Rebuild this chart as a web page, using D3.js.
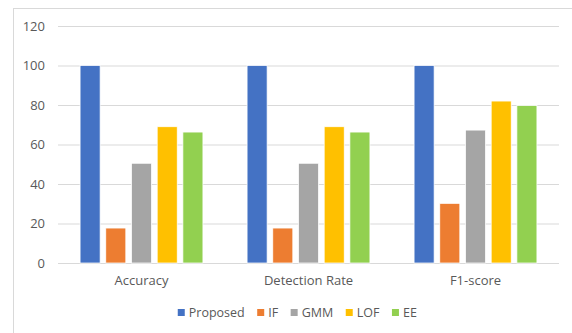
<!DOCTYPE html>
<html>
<head>
<meta charset="utf-8">
<script src="https://cdn.jsdelivr.net/npm/d3@7"></script>
<style>
  html, body { margin: 0; padding: 0; background: #fff; }
  svg { display: block; }
  text { font-family: "Open Sans", "Liberation Sans", sans-serif; fill: #595959; }
</style>
</head>
<body>
<svg id="chart" width="572" height="333"></svg>
<script>
// Metric groups along the x axis
const categories = ["Accuracy", "Detection Rate", "F1-score"];
// Methods compared in each group
const seriesNames = ["Proposed", "IF", "GMM", "LOF", "EE"];
// Scores (%) per method, one value per metric group
const proposed = [100, 100, 100];
const iforest  = [17.7, 17.7, 30.2];
const gmm      = [50.5, 50.5, 67.3];
const lof      = [69, 69, 82];
const ee       = [66.3, 66.3, 79.7];
const yTicks   = [0, 20, 40, 60, 80, 100, 120];
const colors   = ["#4472C4", "#ED7D31", "#A5A5A5", "#FFC000", "#92D050"];

const seriesValues = [proposed, iforest, gmm, lof, ee];

const svg = d3.select("#chart");
const W = 572, H = 333;

// Chart-area frame
svg.append("rect")
  .attr("x", 13.5).attr("y", 8.5)
  .attr("width", W).attr("height", H)
  .attr("fill", "none").attr("stroke", "#d9d9d9").attr("stroke-width", 1);

const plot = { left: 58, right: 559, top: 26, bottom: 263 };

const y = d3.scaleLinear().domain([0, 120]).range([plot.bottom, plot.top]);

const x0 = d3.scaleBand()
  .domain(categories)
  .range([plot.left, plot.right])
  .paddingInner(0.2305)
  .paddingOuter(0.2305 / 2);

const x1 = d3.scaleBand()
  .domain(seriesNames)
  .range([0, x0.bandwidth()])
  .paddingInner(0.22)
  .paddingOuter(0.11);

// Horizontal gridlines and value labels
const yAxis = d3.axisLeft(y)
  .tickValues(yTicks)
  .tickSize(-(plot.right - plot.left))
  .tickPadding(13)
  .tickFormat(d3.format("d"));

const gy = svg.append("g")
  .attr("transform", `translate(${plot.left},0)`)
  .call(yAxis);
gy.select(".domain").remove();
gy.selectAll(".tick line").attr("stroke", "#d9d9d9").attr("stroke-width", 1);
gy.selectAll(".tick text")
  .attr("fill", "#595959")
  .style("font-size", "13px");

// Bars
const groups = svg.append("g").selectAll("g")
  .data(categories)
  .join("g")
  .attr("transform", d => `translate(${x0(d)},0)`);

groups.selectAll("rect")
  .data((c, ci) => seriesNames.map((s, si) => ({ s, si, v: seriesValues[si][ci] })))
  .join("rect")
  .attr("x", d => x1(d.s))
  .attr("width", x1.bandwidth())
  .attr("y", d => y(d.v))
  .attr("height", d => y(0) - y(d.v))
  .attr("fill", d => colors[d.si])
  .attr("stroke", "#ffffff")
  .attr("stroke-width", 0.75);

// Category labels
const xAxis = d3.axisBottom(x0).tickSize(0).tickPadding(13);
const gx = svg.append("g")
  .attr("transform", `translate(0,${plot.bottom})`)
  .call(xAxis);
gx.select(".domain").remove();
gx.selectAll(".tick text")
  .attr("fill", "#595959")
  .style("font-size", "13px");

// Legend, centred below the plot
const legend = svg.append("g").attr("transform", "translate(0,313)");
const items = legend.selectAll("g")
  .data(seriesNames)
  .join("g");
items.append("rect")
  .attr("width", 7).attr("height", 7)
  .attr("y", -4)
  .attr("fill", (d, i) => colors[i]);
items.append("text")
  .attr("x", 11)
  .attr("dy", "0.35em")
  .style("font-size", "12.5px")
  .text(d => d);

const gap = 12.5;
let widths = [];
items.each(function () {
  widths.push(11 + this.querySelector("text").getComputedTextLength());
});
const total = d3.sum(widths) + gap * (widths.length - 1);
let cursor = 297.3 - total / 2;
items.attr("transform", (d, i) => {
  const t = `translate(${cursor},0)`;
  cursor += widths[i] + gap;
  return t;
});
</script>
</body>
</html>
